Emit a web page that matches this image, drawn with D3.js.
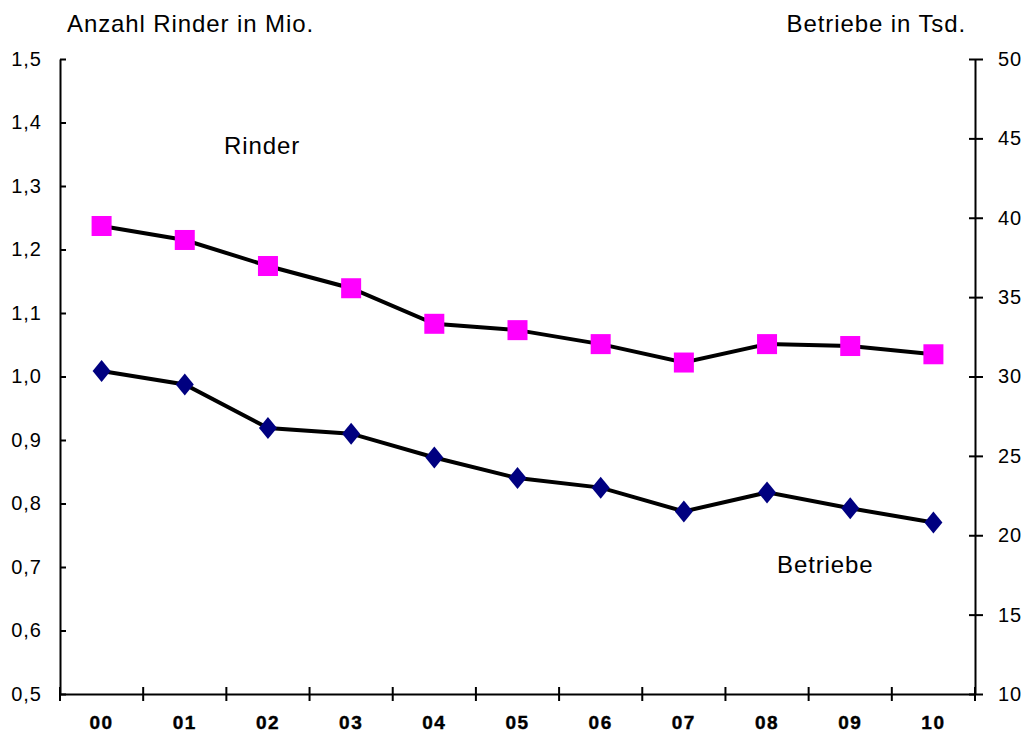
<!DOCTYPE html>
<html><head><meta charset="utf-8">
<script src="https://cdn.jsdelivr.net/npm/d3@7"></script>
<style>body{margin:0;background:#fff;} svg{display:block;font-family:"Liberation Sans",Arial,sans-serif;}</style>
</head><body>
<svg id="c" width="1027" height="735"></svg>
<script>
const years = ["00","01","02","03","04","05","06","07","08","09","10"];
const rinder = [1.237,1.215,1.174,1.139,1.083,1.073,1.051,1.022,1.051,1.048,1.035];
const betriebe = [30.35,29.5,26.75,26.4,24.9,23.6,23.0,21.5,22.7,21.7,20.8];
const leftTicks = [0.5,0.6,0.7,0.8,0.9,1.0,1.1,1.2,1.3,1.4,1.5];
const rightTicks = [10,15,20,25,30,35,40,45,50];

const svg = d3.select("#c");
const L = 60, R = 975, T = 59, B = 694;
const x = d3.scaleBand().domain(years).range([L, R]);
const yL = d3.scaleLinear().domain([0.5, 1.5]).range([B, T]);
const yR = d3.scaleLinear().domain([10, 50]).range([B, T]);
const fmt = d => d3.format(".1f")(d).replace(".", ",");

// left axis
const gl = svg.append("g").attr("transform", `translate(${L},0)`)
  .call(d3.axisLeft(yL).tickValues(leftTicks).tickFormat(fmt).tickSizeInner(8).tickSizeOuter(0).tickPadding(10));
gl.selectAll(".tick line").attr("x2", 6);
// right axis
const gr = svg.append("g").attr("transform", `translate(${R},0)`)
  .call(d3.axisRight(yR).tickValues(rightTicks).tickSizeInner(8).tickSizeOuter(0).tickPadding(15));
gr.selectAll(".tick line").attr("x1", -6);
// bottom axis
const gb = svg.append("g").attr("transform", `translate(0,${B})`)
  .call(d3.axisBottom(x).tickSize(0).tickPadding(22));
gb.selectAll(".tick text").attr("font-weight", "bold").attr("font-size", 19)
  .attr("letter-spacing", 1.5).attr("stroke", "#000").attr("stroke-width", 0.4);
const bounds = [L].concat(years.map(y => x(y) + x.bandwidth()));
gb.selectAll(".xt").data(bounds).enter().append("line")
  .attr("x1", d => d).attr("x2", d => d).attr("y1", -7).attr("y2", 7)
  .attr("stroke", "#000").attr("stroke-width", 2);

[gl, gr, gb].forEach(g => {
  g.selectAll(".domain").attr("stroke", "#000").attr("stroke-width", 2);
  g.selectAll(".tick line").attr("stroke", "#000").attr("stroke-width", 2);
  g.selectAll("text").attr("fill", "#000");
});
gl.selectAll(".tick text").attr("font-size", 20).attr("letter-spacing", 1);
gr.selectAll(".tick text").attr("font-size", 20).attr("letter-spacing", 1);

const cx = d => x(d) + x.bandwidth() / 2;

// Rinder line
svg.append("path").datum(rinder.map((v, i) => [cx(years[i]), yL(v)]))
  .attr("d", d3.line()).attr("fill", "none").attr("stroke", "#000").attr("stroke-width", 4);
svg.selectAll(".sq").data(rinder).enter().append("rect")
  .attr("x", (d, i) => cx(years[i]) - 10).attr("y", d => yL(d) - 10)
  .attr("width", 20).attr("height", 20).attr("fill", "#ff00ff");

// Betriebe line
svg.append("path").datum(betriebe.map((v, i) => [cx(years[i]), yR(v)]))
  .attr("d", d3.line()).attr("fill", "none").attr("stroke", "#000").attr("stroke-width", 4);
svg.selectAll(".dm").data(betriebe).enter().append("path")
  .attr("transform", (d, i) => `translate(${cx(years[i])},${yR(d)})`)
  .attr("d", "M0,-11L9,0L0,11L-9,0Z").attr("fill", "#000080");

// labels
const lab = (xx, yy, t, anchor) => svg.append("text").attr("x", xx).attr("y", yy)
  .attr("font-size", 24).attr("letter-spacing", 0.9).attr("fill", "#000")
  .attr("text-anchor", anchor || "start").text(t);
lab(67, 32, "Anzahl Rinder in Mio.");
lab(966, 32, "Betriebe in Tsd.", "end");
lab(224, 154, "Rinder");
lab(777, 573, "Betriebe");
</script>
</body></html>
